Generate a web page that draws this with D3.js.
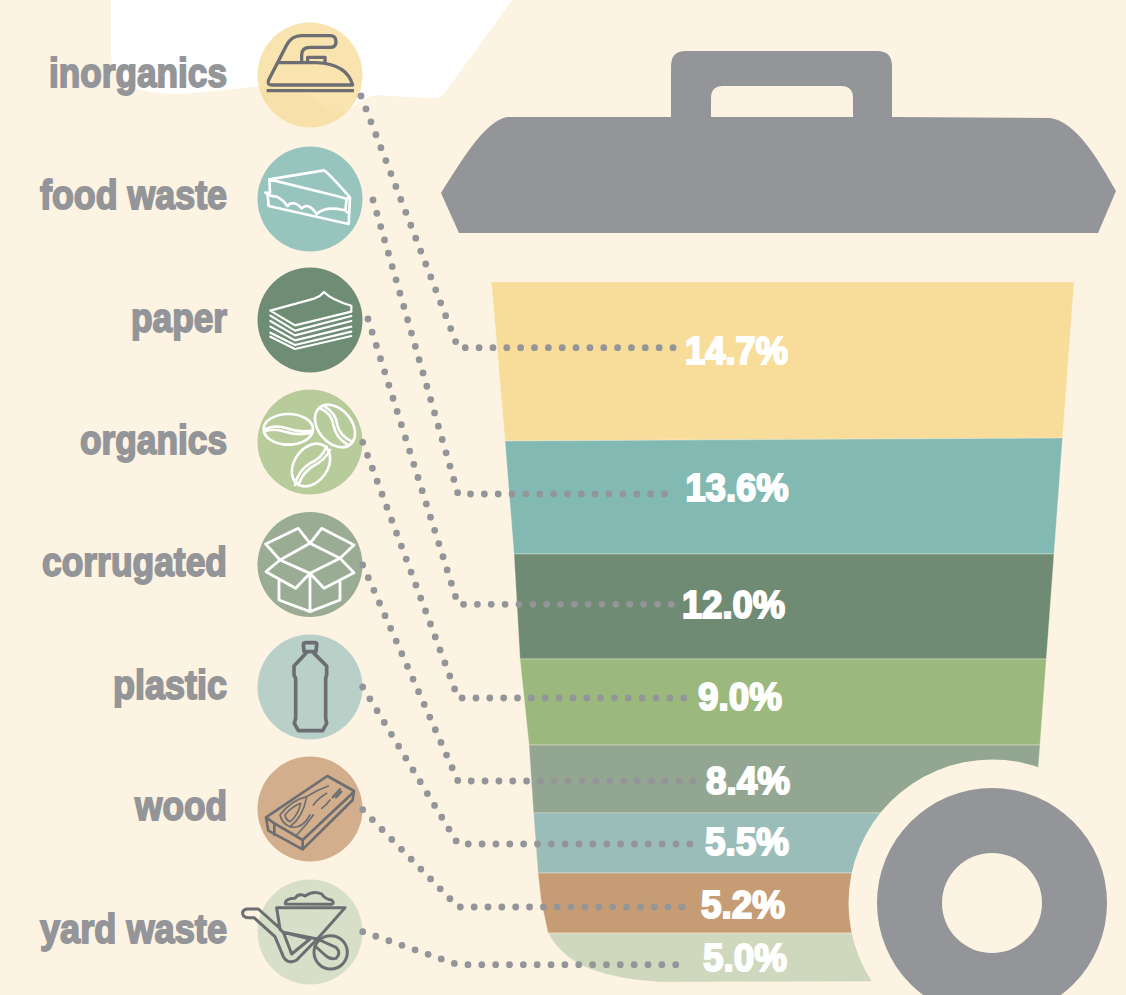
<!DOCTYPE html>
<html>
<head>
<meta charset="utf-8">
<script src="https://cdn.jsdelivr.net/npm/d3@7"></script>
<style>
  html, body { margin: 0; padding: 0; background: #fcf3e3; }
  svg { display: block; }
  text { font-family: "Liberation Sans", sans-serif; font-weight: 700; }
</style>
</head>
<body>
<svg width="1126" height="995"></svg>
<script>
const categories = ["inorganics", "food waste", "paper", "organics", "corrugated", "plastic", "wood", "yard waste"];
const shares = [14.7, 13.6, 12.0, 9.0, 8.4, 5.5, 5.2, 5.0];
const shareLabels = ["14.7%", "13.6%", "12.0%", "9.0%", "8.4%", "5.5%", "5.2%", "5.0%"];

const bandColors = ["#f7dc9a", "#82bab3", "#6f8b73", "#9cb97d", "#93a691", "#9bbdba", "#c69c75", "#cfd7bd"];
const circleColors = ["rgba(246,217,146,0.72)", "#97c4bd", "#6f8c74", "#b8cb9a", "#9aac94", "#b9d0c9", "#d2ae8c", "#d8dfc8"];

const GREY = "#939598";
const ICON_GREY = "#6d6e71";
const CREAM = "#fcf3e3";

const svg = d3.select("svg");

// the bands are not to scale in the poster, so the scale is piecewise
const cumulative = [0, ...d3.cumsum(shares)];
const y = d3.scaleLinear().domain(cumulative).range([282, 438, 554, 659, 745, 813, 873, 933, 981]);
const leftEdge = d3.scaleLinear().domain([282, 288, 441, 554, 659, 745, 813, 873, 900, 933]).range([491, 492, 505, 514, 520, 529, 533.5, 538, 541, 548]);
const rightEdge = d3.scaleLinear().domain([282, 745]).range([1074, 1040]);

const rowY = d3.scaleOrdinal().domain(categories).range([75, 199, 320, 442, 564.5, 687, 809, 932]);
const CIRCLE_X = 310;
const CIRCLE_R = 52.5;

// white corner of the page behind the top of the poster
svg.append("path")
    .attr("d", "M111 0 V55 Q112 78 133 87 Q150 94 180 94 Q215 92 258 86 Q285 88 307 93 Q320 106 333 113 Q345 112 353 107 Q365 96 377 95 Q405 97 433 98 Q440 98 443 95 Q480 45 512 0 Z")
    .attr("fill", "#fff");

// lid
svg.append("path")
    .attr("fill", GREY)
    .attr("fill-rule", "evenodd")
    .attr("d", "M507 117 H671 V66 Q671 51 686 51 H877 Q892 51 892 66 V117 L1050 118 C1076 122 1096 156 1116 191 L1098 233 H459 L441 193 C462 160 484 122 507 117 Z M711 117 H853 V98 Q853 86 841 86 H723 Q711 86 711 98 Z");

// bin bands, the first seam runs slightly uphill
const seamTilt = [0, 3, 0, 0, 0, 0, 0, 0, 0];
const bands = categories.map((c, i) => ({ c, i, y0: y(cumulative[i]), y1: y(cumulative[i + 1]), t0: seamTilt[i], t1: seamTilt[i + 1] }));

function bandPath(d) {
    const yl0 = d.y0 + d.t0, yl1 = d.y1 + d.t1;
    if (d.i === categories.length - 1) {
        return `M${leftEdge(yl0)} ${yl0} H${rightEdge(d.y0)} V${d.y1} L660 982 Q620 980 590 969 Q562 958 ${leftEdge(yl0)} ${yl0} Z`;
    }
    const steps = leftEdge.domain().filter(v => v > yl0 && v < yl1);
    const side = steps.map(v => `L${leftEdge(v)} ${v}`).reverse().join(" ");
    return `M${leftEdge(yl0)} ${yl0} L${rightEdge(d.y0)} ${d.y0} L${rightEdge(d.y1)} ${d.y1} L${leftEdge(yl1)} ${yl1} ${side} Z`;
}

svg.append("g").selectAll("path")
    .data(bands)
    .enter().append("path")
    .attr("d", bandPath)
    .attr("fill", d => bandColors[d.i])
    .attr("stroke", CREAM)
    .attr("stroke-opacity", 0.35)
    .attr("stroke-width", 1);

// wheel sits in a cream cut-out over the bin
svg.append("circle").attr("cx", 992).attr("cy", 903).attr("r", 143.5).attr("fill", CREAM);
svg.append("circle").attr("cx", 992).attr("cy", 903).attr("r", 115).attr("fill", GREY);
svg.append("circle").attr("cx", 992).attr("cy", 903).attr("r", 50).attr("fill", CREAM);

// rows on the left
svg.append("g").selectAll("circle")
    .data(categories)
    .enter().append("circle")
    .attr("cx", CIRCLE_X)
    .attr("cy", d => rowY(d))
    .attr("r", CIRCLE_R)
    .attr("fill", (d, i) => circleColors[i]);

const nameWidth = [178, 187, 96, 147, 185, 114, 92, 187];
const nameBase = [87, 209, 332, 454, 576, 699, 820, 943];
svg.append("g").selectAll("text")
    .data(categories)
    .enter().append("text")
    .attr("x", 227)
    .attr("y", (d, i) => nameBase[i])
    .attr("text-anchor", "end")
    .attr("font-size", 41)
    .attr("fill", GREY)
    .attr("stroke", GREY)
    .attr("stroke-width", 1.8)
    .attr("textLength", (d, i) => nameWidth[i])
    .attr("lengthAdjust", "spacingAndGlyphs")
    .text(d => d);

// dotted leaders: start next to the circle, run down to a common elbow, then across
const TURN_X = 458;
const leaderStart = [[361, 96], [373, 200], [368, 319], [362.7, 442.3], [362.7, 565], [362.7, 687], [362.7, 809.7], [362.7, 931.7]];
const leaderEndY = [347.7, 494, 604.3, 698, 781, 844, 907, 964.7];
const leaderEndX = [676, 667, 676, 688, 695, 692, 684, 678];

svg.append("g").selectAll("path")
    .data(categories)
    .enter().append("path")
    .attr("d", (d, i) => {
        const [sx, sy] = leaderStart[i];
        return `M${sx} ${sy} L${TURN_X} ${leaderEndY[i]} H${leaderEndX[i]}`;
    })
    .attr("fill", "none")
    .attr("stroke", GREY)
    .attr("stroke-width", 6.8)
    .attr("stroke-linecap", "round")
    .attr("stroke-dasharray", "0 13.85");

// percent labels
const labelX = [685, 685.5, 682, 698, 706, 705, 701, 703];
const labelBase = [363.5, 501, 618, 710, 794, 855, 917.5, 970.5];

svg.append("g").selectAll("text")
    .data(shareLabels)
    .enter().append("text")
    .attr("x", (d, i) => labelX[i])
    .attr("y", (d, i) => labelBase[i])
    .attr("font-size", 39)
    .attr("fill", "#fff")
    .attr("stroke", "#fff")
    .attr("stroke-width", 2)
    .attr("textLength", d => d.length === 5 ? 103 : 84)
    .attr("lengthAdjust", "spacingAndGlyphs")
    .text(d => d);

// icons, traced at 3x and scaled down
function icon(ox, oy, color, width) {
    return svg.append("g")
        .attr("transform", `translate(${ox},${oy}) scale(${1 / 3})`)
        .attr("fill", "none")
        .attr("stroke", color)
        .attr("stroke-width", width)
        .attr("stroke-linejoin", "round")
        .attr("stroke-linecap", "round");
}

const iron = icon(0, 0, ICON_GREY, 10);
iron.append("path").attr("d", "M1058 255 H815 Q800 255 806 240 L860 135 Q875 107 905 107 H990 Q1008 107 1008 125 Q1008 142 990 142 H930 Q905 142 905 165 V188 H950 Q1040 192 1058 255 Z M838 188 H905 M923 188 V172 H975 V188");
iron.append("path").attr("d", "M800 272 H1062").attr("stroke-linecap", "butt");

const sandwich = icon(0, 0, "#fff", 8);
sandwich.append("path").attr("d", "M808 538 L972 511 Q985 518 1050 592 L1046 672 L806 618 L802 578 M808 538 L998 585 M1002 586 L1040 596 M808 538 L810 578 M1050 592 L1040 596 L1036 632 L1046 640 M796 578 Q812 590 830 590 Q850 600 862 618 Q880 598 905 625 Q925 605 950 642 Q975 618 1030 630");

const paper = icon(0, 0, "#fff", 6.5);
paper.append("path").attr("d", "M811 932 L945 895 Q962 888 972 876 Q995 900 1054 917 V935 L885 976 Z M811 947 L885 992 L1054 948 M811 963 L885 1006 L1054 963 M811 980 L885 1021 L1054 980 M811 998 L885 1035 L1054 995 M811 1010 L885 1047 L1054 1008");

const beans = icon(230, 380, "#fff", 8);
beans.append("ellipse").attr("cx", 175).attr("cy", 148).attr("rx", 74).attr("ry", 46);
beans.append("path").attr("d", "M103 150 Q130 132 170 145 Q205 158 248 152 M103 154 Q130 144 165 155 Q205 168 246 158");
beans.append("ellipse").attr("cx", 315).attr("cy", 138).attr("rx", 72).attr("ry", 50).attr("transform", "rotate(50 315 138)");
beans.append("path").attr("d", "M270 85 Q305 100 310 135 Q318 175 355 195 M285 80 Q318 100 322 135 Q328 165 365 185");
beans.append("ellipse").attr("cx", 243).attr("cy", 255).attr("rx", 70).attr("ry", 50).attr("transform", "rotate(-55 243 255)");
beans.append("path").attr("d", "M290 200 Q275 235 240 250 Q205 270 195 315 M300 210 Q285 240 250 258 Q220 275 205 315");

const box = icon(230, 380, "#fff", 8.5);
box.append("path").attr("d", "M240 490 L150 540 L240 580 L330 535 Z M240 490 L205 445 L107 492 L150 540 M240 490 L275 445 L372 495 L330 535 M150 540 L108 575 L197 625 L240 580 M330 535 L372 578 L282 625 L240 580 M147 600 V660 L240 695 L330 660 V600 M240 580 V695");

const bottle = icon(230, 380, ICON_GREY, 11);
bottle.append("path").attr("d", "M222 815 L220 795 Q220 788 228 788 H254 Q262 788 260 795 L258 815 Z M228 820 L192 858 V885 L197 895 V1015 L193 1030 L205 1052 H278 L290 1030 L287 1015 V895 L290 885 V858 L252 820");

const wood = icon(230, 740, ICON_GREY, 8);
wood.append("path").attr("d", "M108 232 L292 108 L372 153 L368 180 L218 328 L115 272 Z M108 232 L133 250 L218 300 L372 155 M218 300 V328 M133 250 V285");
wood.append("path").attr("stroke-width", 5).attr("d", "M150 225 Q185 180 230 170 Q220 230 180 260 Q155 250 150 225 M165 225 Q185 200 212 190 Q205 225 180 245 Q168 240 165 225 M230 170 Q260 150 295 138 M180 260 Q215 270 240 225 M200 285 Q225 260 250 225 M250 195 Q265 175 290 160 M275 205 Q290 195 300 180");
wood.append("path").attr("stroke-width", 7).attr("d", "M308 172 L330 148 M318 172 L334 155");

const barrow = icon(230, 740, ICON_GREY, 9);
barrow.append("path").attr("d", "M150 568 L140 503 H345 L262 597 L160 577 Z M150 565 L85 507 H50 Q36 510 38 522 Q42 535 60 533 H72 L135 590 L160 650 Q175 675 200 660 L262 597 M160 577 L240 597 L185 642 Z");
barrow.append("path").attr("d", "M262 597 L318 622 Q335 640 318 655 Q300 660 285 645 L255 618");
barrow.append("path").attr("d", "M166 492 Q165 475 195 475 Q205 458 225 468 Q250 450 275 462 Q285 478 305 480 Q315 490 305 493 Z");
barrow.append("circle").attr("cx", 302).attr("cy", 637).attr("r", 50);
</script>
</body>
</html>
